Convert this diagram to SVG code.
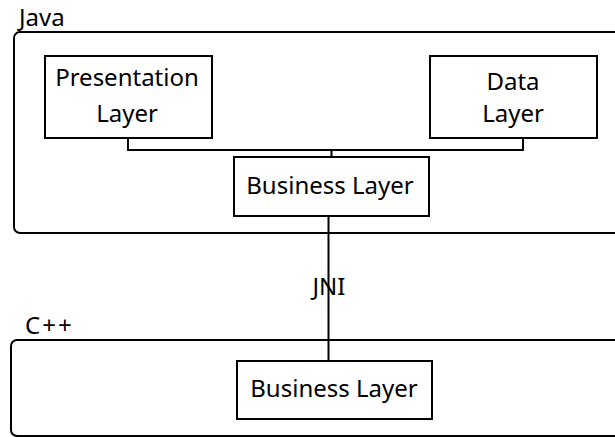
<svg xmlns="http://www.w3.org/2000/svg" width="615" height="437" viewBox="0 0 615 437">
  <style>
    .container { fill: none; stroke: #000; stroke-width: 2; }
    .box { fill: #fff; stroke: #000; stroke-width: 2; }
    .wire { fill: none; stroke: #000; stroke-width: 2; }
    .label { font-family: "Noto Sans", "Open Sans", sans-serif; font-size: 24px; fill: #000; }
    .center { text-anchor: middle; }
  </style>
  <rect width="615" height="437" fill="#fff"/>

  <!-- Java layer container -->
  <g id="java">
    <text class="label" x="19" y="26">Java</text>
    <rect class="container" x="14" y="32" width="640" height="201" rx="6" ry="6"/>
  </g>

  <!-- C++ layer container -->
  <g id="cpp">
    <text class="label" x="25" y="334" letter-spacing="2">C++</text>
    <rect class="container" x="11" y="340" width="640" height="96" rx="6" ry="6"/>
  </g>

  <!-- Connectors -->
  <g id="connectors">
    <path class="wire" d="M128 138 V150 H523 V138"/>
    <path class="wire" d="M331.5 150 V157"/>
    <path class="wire" d="M328.5 216 V361"/>
    <text class="label center" x="329" y="295">JNI</text>
  </g>

  <g id="presentation-layer">
    <rect class="box" x="45" y="56" width="167" height="82"/>
    <text class="label center" x="127" y="86">Presentation</text>
    <text class="label center" x="127" y="122">Layer</text>
  </g>

  <g id="data-layer">
    <rect class="box" x="430" y="56" width="167" height="82"/>
    <text class="label center" x="513" y="90">Data</text>
    <text class="label center" x="513" y="122">Layer</text>
  </g>

  <g id="java-business-layer">
    <rect class="box" x="234" y="157" width="195" height="59"/>
    <text class="label center" x="330" y="194">Business Layer</text>
  </g>

  <g id="cpp-business-layer">
    <rect class="box" x="237" y="361" width="195" height="58"/>
    <text class="label center" x="334" y="397">Business Layer</text>
  </g>
</svg>
